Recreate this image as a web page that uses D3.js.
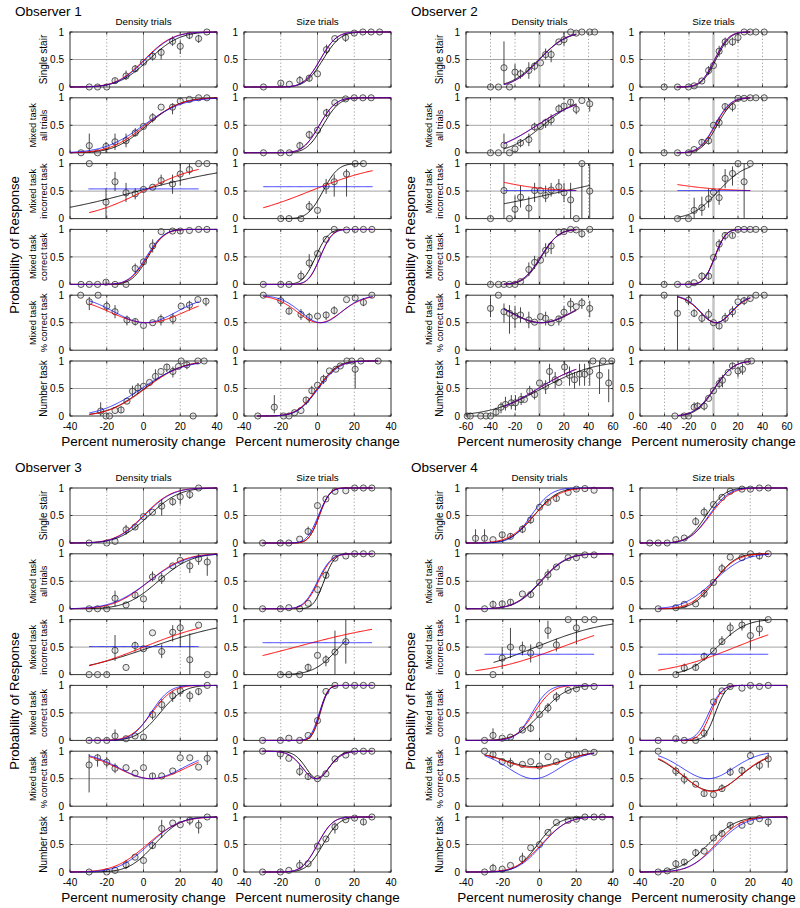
<!DOCTYPE html>
<html><head><meta charset="utf-8">
<script src="https://cdn.jsdelivr.net/npm/d3@7"></script>
<style>body{margin:0;background:#fff;} text{font-family:"Liberation Sans",Arial,Helvetica,sans-serif;fill:#000;}</style>
</head><body><svg id="c" width="800" height="908"></svg>
<script>
const observers = ["Observer 1","Observer 2","Observer 3","Observer 4"];
const columns = ["Density trials","Size trials"];
const rowLabels = [["Single stair"],["Mixed task","all trials"],["Mixed task","incorrect task"],["Mixed task","correct task"],["Mixed task","% correct task"],["Number task"]];
const xDomains = [[-40,40],[-60,60],[-40,40],[-40,40]];
const xTickVals = [[-40,-20,0,20,40],[-60,-40,-20,0,20,40,60],[-40,-20,0,20,40],[-40,-20,0,20,40]];
const yTickVals = [0,0.5,1];
const yLabel = "Probability of Response";
const xLabel = "Percent numerosity change";

// points: [x, y, errLow, errHigh]
// fits: [color, kind, mu, sd, lo, hi, x0, x1]  kind: s = psychometric, u = % correct, h = flat [color,'h',y,x0,x1]
const o1dPts = [
 [[-29.5,0],[-25,0],[-20,0],[-15.5,0.115,0.06,0.16],[-9.5,0.2,0.13,0.3],[-4.5,0.33,0.27,0.4],[0,0.45,0.4,0.5],[5,0.56,0.48,0.65],[9.6,0.63,0.5,0.7],[15.8,0.83,0.75,0.92],[20,0.74,0.6,0.85],[25,0.94,0.87,1],[30,0.88,0.8,0.95],[34.5,1]],
 [[-34,0],[-29.5,0.13,0,0.35],[-25,0],[-20.4,0.115,0,0.2],[-15.5,0.2,0.05,0.35],[-9.5,0.22,0.1,0.35],[-4.5,0.36,0.3,0.45],[0,0.48],[5,0.64,0.55,0.72],[9.6,0.83],[15.8,0.83,0.7,0.9],[20,0.94],[25,0.97],[30,1],[34.5,1]],
 [[-29.5,1],[-20.4,0.3,0,0.55],[-15.5,0.67,0.5,0.85],[-9.5,0.47,0.3,0.65],[-4.5,0.45,0.35,0.55],[0,0.53],[5,0.57],[9.6,0.69,0.6,0.8],[15.8,0.63,0.45,0.8],[20,0.81,0.6,1],[25,0.89,0.8,1],[30,1],[34.5,1]],
 [[-34,0],[-29.5,0],[-25,0],[-20.4,0.04,0,0.08],[-15.5,0],[-9.5,0],[-4.5,0.29,0.2,0.38],[0,0.41],[5,0.7,0.58,0.82],[9.6,0.96],[15.8,0.97],[20,0.97,0.92,1],[25,0.98],[30,1],[34.5,1]],
 [[-34.2,1],[-29.5,0.88,0.73,0.97],[-24.7,1],[-20,0.8,0.7,0.9],[-15.5,0.7,0.58,0.82],[-9,0.55,0.45,0.63],[-4.5,0.52,0.45,0.58],[0,0.45],[5,0.5],[9.5,0.56,0.45,0.65],[16,0.57,0.47,0.67],[20.5,0.8],[25,0.82,0.72,0.9],[29.6,0.92],[34,0.89,0.8,0.95]],
 [[-23.3,0.09,0,0.25],[-20.4,0],[-18.5,0],[-15.5,0.1],[-12.2,0.11,0.05,0.18],[-9,0.27],[-6,0.45,0.35,0.55],[-3,0.51,0.4,0.6],[0,0.54],[3.3,0.61],[6.5,0.72,0.65,0.85],[9.5,0.81],[12.7,0.89,0.8,0.95],[16,0.81,0.7,0.9],[19,0.9],[20.5,1],[23.6,0.93,0.85,1],[27,0],[29.6,1],[33,1]]
];
const o1dFits = [
 [['k','s',3,13],['r','s',0.5,12],['b','s',1,12]],
 [['k','s',2,14],['r','s',1,15],['b','s',0,17]],
 [['k','s',-3,45],['r','s',0,24,0,1,-29.5,30],['b','h',0.54,-30,30]],
 [['k','s',2.5,7],['r','s',2,7.5],['b','s',1.5,7.5]],
 [['r','u',2,23,0.5,1,-29.5,30],['b','u',1,19,0.5,1,-29.5,30]],
 [['k','s',0.5,16,0,1,-29.5,30],['r','s',1,16,0,1,-29.5,30],['b','s',-1,18,0,1,-29.5,30]]
];
const o1sPts = [
 [[-29.4,0],[-20,0.07,0.03,0.1],[-15.3,0.05],[-9.6,0.12,0.05,0.2],[-4.5,0.16,0.1,0.22],[0,0.24],[4.9,0.68,0.6,0.77],[9.4,0.88],[15.3,0.9,0.82,0.97],[20,0.98],[24.7,1],[29.2,1],[33.8,1]],
 [[-29.4,0],[-20,0],[-15.3,0],[-9.6,0.13,0.07,0.2],[-4.5,0.33,0.25,0.4],[0,0.41],[4.9,0.73,0.65,0.8],[9.4,0.91],[15.3,0.98],[20,1],[24.7,1],[29.2,1]],
 [[-20,0],[-15.5,0],[-9,0],[-4.5,0.22,0.13,0.32],[0,0.15],[4.7,0.59,0.45,0.72],[9.1,0.67,0.4,0.8],[15.8,0.81,0.4,0.9],[20.5,1],[25,1]],
 [[-29.5,0],[-20,0],[-15.5,0],[-9,0.15,0.08,0.25],[-4.5,0.39,0.3,0.55],[0,0.56],[4.7,0.82],[9.1,1],[15.8,0.99],[20.5,1],[25,1],[29.6,1]],
 [[-29.5,1],[-20,0.9,0.8,1],[-15.5,0.71,0.65,0.78],[-9,0.65,0.55,0.75],[-4.5,0.6,0.5,0.68],[0,0.62],[4.7,0.64,0.55,0.7],[9.1,0.72,0.65,0.8],[15.8,0.92],[20.5,0.95],[25,0.87,0.8,0.95],[29.6,1]],
 [[-32.5,0],[-23.5,0.16,0.05,0.38],[-18.5,0],[-15.5,0],[-12.5,0.06],[-9,0.1],[-6.2,0.29,0.2,0.35],[-3.1,0.46,0.4,0.55],[0,0.56],[3.3,0.67,0.58,0.75],[6.5,0.82],[10,0.85],[12.4,0.91],[16,1],[18.7,1],[20.5,0.85,0.5,1],[23.6,1],[33,1]]
];
const o1sFits = [
 [['k','s',3,7.5],['r','s',1.5,7],['b','s',1.5,7]],
 [['k','s',3,7],['r','s',1,7],['b','s',1,7]],
 [['k','s',3,6.5,0,1,-20,25],['r','s',-4,30,0,1,-29.5,30],['b','h',0.58,-29.5,30]],
 [['k','s',-1,5.5,0,1,-30,30],['r','s',1.5,5,0,1,-30,30],['b','s',1.5,5.2,0,1,-30,30]],
 [['r','u',1,13.5,0.5,1,-29.5,30],['b','u',2,12.5,0.5,1,-29.5,30]],
 [['k','s',0,8.5,0,1,-33,33],['r','s',0,9,0,1,-33,33],['b','s',0.5,9,0,1,-33,33]]
];
const o2dPts = [
 [[-40,0],[-33.5,0],[-29,0.35,0.04,0.83],[-24.5,0],[-20,0.27,0.12,0.42],[-15.5,0.24,0.15,0.32],[-8.7,0.3,0.15,0.45],[-4,0.38,0.3,0.45],[0.8,0.44],[5,0.59,0.5,0.7],[9.5,0.59,0.45,0.68],[15.8,0.82],[20,0.86,0.75,0.98],[25.4,1],[30,0.98],[34.6,1],[41,1],[45,1]],
 [[-40,0],[-33.5,0],[-29,0.14,0,0.35],[-24.5,0],[-20,0.07],[-15.5,0.18,0.1,0.25],[-8.7,0.24,0.12,0.35],[-4,0.47,0.4,0.55],[0.8,0.48],[5,0.55,0.45,0.62],[9.5,0.6,0.5,0.7],[15.8,0.8,0.72,0.88],[20,0.85,0.75,0.9],[25.4,0.92,0.85,0.97],[30,0.79,0.7,0.88],[34.6,0.95],[41,0.89,0.75,0.98]],
 [[-40,0],[-29,0.51,0,1],[-24.5,0],[-20,0.17,0,0.42],[-15.5,0.39,0.2,0.6],[-8.7,0.19,0,0.4],[-4,0.51,0.3,0.65],[0.8,0.51],[5,0.42,0.3,0.6],[9.5,0.52,0.4,0.65],[15.8,0.58,0.45,0.72],[20,0.47,0.3,0.65],[25.4,0.34,0,0.65],[30,0],[34.6,1,0,1],[41,0.5,0,1]],
 [[-40,0],[-33.5,0],[-29,0],[-24.5,0],[-20,0],[-15.5,0.05],[-8.7,0.27,0.15,0.4],[-4,0.4,0.28,0.52],[0.8,0.44],[5,0.62,0.5,0.75],[9.5,0.7,0.55,0.78],[15.8,0.95],[20,0.96],[25.4,1],[30,0.99],[34.6,0.92,0.85,1],[41,1]],
 [[-40,0.76,0.6,0.95],[-33.5,1],[-29,0.7,0.5,0.85],[-24.5,0.67,0.3,0.82],[-20,0.62,0.4,0.8],[-15.5,0.64,0.5,0.78],[-8.7,0.55,0.4,0.7],[-4,0.51],[0.8,0.61],[5,0.58,0.45,0.7],[9.5,0.5],[15.8,0.57,0.45,0.62],[20,0.69,0.58,0.8],[25.4,0.84,0.7,0.95],[30,0.79],[34.6,0.86,0.75,0.95],[41,0.76,0.6,0.9]],
 [[-59,0],[-56.5,0],[-48,0],[-43.6,0],[-40,0],[-35.5,0.07,0,0.15],[-31.4,0.16,0.05,0.25],[-27.8,0.21,0.1,0.35],[-23,0.24,0.12,0.38],[-19.6,0.24,0.1,0.38],[-15,0.3,0.2,0.42],[-12.3,0.3],[-8,0.45,0.38,0.55],[-4,0.39,0.3,0.48],[0,0.6],[5,0.54,0.4,0.65],[8.2,0.81,0.6,0.95],[12.8,0.66,0.5,0.8],[15.8,0.61],[20.5,0.89,0.75,1],[24.5,0.74,0.55,0.9],[28.6,0.66,0.5,0.8],[32.7,0.76,0.55,0.95],[36.8,0.76,0.55,0.95],[41,0.81,0.55,1],[43.6,1],[49,0.74,0.4,1],[51.8,1],[56.5,0.6,0.25,0.85],[59,1]]
];
const o2dFits = [
 [['k','s',-0.5,18,0,1,-29,30],['r','s',0,17,0,1,-29,30],['b','s',0,17,0,1,-29,30]],
 [['k','s',3,22,0,1,-29,30],['r','s',-2,28,0,1,-29,30],['b','s',-2,28,0,1,-29,30]],
 [['k','s',20,80,0,1,-29,41],['r','s',-46.5,-37.3,0.5,1,-29,30],['b','h',0.51,-29,30]],
 [['k','s',1.5,11,0,1,-29,30],['r','s',1,11.5,0,1,-29,30],['b','s',1,11.5,0,1,-29,30]],
 [['k','u',2,29,0.5,1,-29,30],['r','u',1,29,0.5,1,-29,30],['b','u',1,29,0.5,1,-29,30]],
 [['k','s',2,34,0,1,-60,60],['r','s',-1,30,0,1,-29,30],['b','s',-1,30,0,1,-29,30]]
];
const o2sPts = [
 [[-40.3,0],[-29.4,0],[-20.4,0],[-15.8,0.02],[-9.5,0.11],[-4,0.3,0.22,0.38],[0,0.39],[4.6,0.65,0.55,0.75],[9.5,0.82,0.72,0.9],[15.5,0.82,0.75,0.9],[20,0.9,0.8,0.97],[25,1],[30,1],[34.6,1],[41.4,1]],
 [[-40.3,0],[-29.4,0],[-20.4,0],[-15.8,0.06],[-9.5,0.19,0.12,0.25],[-4,0.22,0.15,0.3],[0,0.5],[4.6,0.55,0.45,0.65],[9.5,0.84,0.75,0.9],[15.5,0.84,0.75,0.9],[20,0.99],[25,0.99],[30,1],[34.6,1],[41.4,1]],
 [[-29.4,0],[-20.4,0],[-15.8,0.15,0,0.38],[-9.5,0.2,0.05,0.4],[-4,0.36,0.2,0.55],[0,0.48],[4.6,0.38,0.25,0.55],[9.5,0.73,0.55,0.9],[15.5,0.82,0.6,0.95],[20,1],[25,0.67,0,1],[30,1]],
 [[-40.3,0],[-29.4,0],[-20.4,0],[-15.8,0.03],[-9.5,0.15,0.08,0.22],[-4,0.15,0.08,0.22],[0,0.49],[4.6,0.73,0.6,0.82],[9.5,0.89,0.8,0.95],[15.5,0.89,0.85,0.95],[20,1],[25,1],[30,1],[34.6,1],[41.4,1]],
 [[-40.3,1],[-29.4,0.67,0,1],[-20.4,0.91,0.82,1],[-15.8,0.67,0.6,0.75],[-9.5,0.58,0.5,0.68],[-4,0.65,0.55,0.75],[0,0.5],[4.6,0.44,0.38,0.52],[9.5,0.58,0.5,0.68],[15.5,0.7,0.6,0.8],[20,0.88],[25,0.9,0.82,0.97],[30,0.94],[34.6,1],[41.4,1]],
 [[-31.5,0],[-24,0],[-20.4,0],[-15.8,0.16,0.1,0.25],[-13,0.18,0.12,0.25],[-7.6,0.18,0.1,0.25],[-4,0.32],[0,0.46],[4.6,0.59,0.5,0.7],[7.3,0.65,0.52,0.75],[12,0.79],[15.5,0.91,0.85,0.97],[20,0.82,0.7,0.9],[23.7,0.85,0.75,0.95],[27.8,0.99],[31,1]]
];
const o2sFits = [
 [['k','s',2,9,0,1,-30,30],['r','s',1,9,0,1,-30,30],['b','s',1,9,0,1,-30,30]],
 [['k','s',3,10,0,1,-30,30],['r','s',1.5,10,0,1,-30,30],['b','s',1,10,0,1,-30,30]],
 [['k','s',4,17,0,1,-29.4,30],['r','s',-60.9,-44.3,0.5,1,-29.4,30],['b','h',0.51,-29.4,30]],
 [['k','s',1,7,0,1,-30,30],['r','s',1,7,0,1,-30,30],['b','s',1.2,7,0,1,-30,30]],
 [['k','u',2,14.5,0.5,1,-29.4,30],['r','u',2,14.5,0.5,1,-29.4,30],['b','u',2,14,0.5,1,-29.4,30]],
 [['k','s',1,12,0,1,-29,30],['r','s',0.5,12.5,0,1,-29,30],['b','s',0.5,12.5,0,1,-29,30]]
];
const o3dPts = [
 [[-29.6,0],[-20,0],[-15.5,0.03],[-9.5,0.24,0.15,0.33],[-4.6,0.29,0.25,0.33],[0,0.48],[4.9,0.56],[9.9,0.67,0.5,0.8],[15.9,0.75,0.68,0.82],[20,0.84,0.7,0.95],[25.2,0.88,0.8,0.95],[30,1]],
 [[-29.6,0],[-25,0],[-20,0],[-15.5,0.19,0.05,0.33],[-9.5,0.07],[-4.6,0.25,0.2,0.3],[0,0.18],[4.9,0.58,0.5,0.68],[9.9,0.55,0.45,0.65],[15.9,0.78],[20,0.88],[25.2,0.78,0.65,0.88],[30,0.91,0.8,1],[34.7,0.85,0.6,0.95]],
 [[-29.6,0],[-25,0],[-20,0],[-15.5,0.44,0.25,0.72],[-9.5,0.13],[-4.6,0.53,0.42,0.6],[0,0.47],[4.9,0.76],[9.9,0.42,0.3,0.55],[15.9,0.77,0.6,0.9],[20,0.85,0.5,1],[25.2,0.27,0,0.75],[30,0.9],[34.7,0]],
 [[-29.6,0],[-25,0],[-20,0],[-15.5,0.08,0,0.2],[-9.5,0.03],[-4.6,0.08],[0,0.06],[4.9,0.47,0.38,0.55],[9.9,0.65,0.55,0.75],[15.9,0.81,0.7,0.9],[20,0.9,0.8,0.97],[25.2,0.81,0.7,0.9],[30,0.89,0.82,0.95],[34.7,1]],
 [[-29.6,0.75,0.25,0.95],[-25,0.88,0.72,0.95],[-20,0.8,0.7,0.9],[-15.5,0.69,0.6,0.78],[-9.5,0.7],[-4.6,0.6],[0,0.7],[4.9,0.55,0.5,0.6],[9.9,0.55],[15.9,0.64],[20,0.88],[25.2,0.88],[30,0.71],[34.7,0.87,0.75,1]],
 [[-29.6,0],[-20,0],[-15.5,0.03],[-9.5,0.13,0.05,0.22],[-4.6,0.27],[0,0.21],[4.9,0.48,0.42,0.55],[9.9,0.79,0.62,0.95],[15.9,0.89],[20,0.86],[25.2,0.94,0.85,1],[30,0.85,0.7,0.95],[34.7,1]]
];
const o3dFits = [
 [['k','s',3,13],['r','s',0,12],['b','s',0.5,12]],
 [['k','s',8,14],['r','s',3,15],['b','s',3,16]],
 [['k','s',4,35,0,1,-29.6,40],['r','s',0,30,0,1,-29.6,30],['b','h',0.51,-29.6,30]],
 [['k','s',9,10,0,1,-30,40],['r','s',4.5,9,0,1,-30,40],['b','s',4,8,0,1,-30,40]],
 [['r','u',4.5,21,0.5,1,-29.6,30],['b','u',4,19.5,0.5,1,-29.6,30]],
 [['k','s',6,11],['r','s',2,14],['b','s',3,13]]
];
const o3sPts = [
 [[-29.9,0],[-20.2,0],[-15.6,0],[-9.7,0.07],[-5.1,0.21,0.15,0.3],[0,0.68],[4.6,0.8],[9.5,0.94],[15.4,0.95],[20.2,1],[25,1],[29.6,1]],
 [[-29.9,0],[-20.2,0],[-15.6,0.02],[-9.7,0],[-5.1,0.1],[0,0.35],[4.6,0.61,0.55,0.68],[9.5,0.92],[15.4,0.96],[20.2,1],[25,1],[29.6,1]],
 [[-20.2,0],[-15.6,0],[-9.7,0],[-5.1,0.13,0.07,0.2],[0,0.35],[4.6,0.27,0.15,0.35],[9.5,0.41,0,0.8],[15.4,0.6,0.2,1]],
 [[-29.9,0],[-20.2,0],[-15.6,0.04],[-9.7,0],[-5.1,0.09],[0,0.36],[4.6,0.89],[9.5,1],[15.4,1],[20.2,1],[25,1],[29.6,1]],
 [[-29.9,1],[-20.2,0.95,0.85,1],[-15.6,0.87],[-9.7,0.63,0.55,0.75],[-5.1,0.54,0.48,0.6],[0,0.5],[4.6,0.59],[9.5,0.86],[15.4,0.93],[20.2,1],[25,1],[29.6,1]],
 [[-29.9,0],[-20.2,0],[-15.6,0.03],[-9.7,0.12,0.05,0.22],[-5.1,0.15],[0,0.47],[4.6,0.6],[9.5,0.82,0.7,0.9],[15.4,0.95],[20.2,0.98],[25,0.91,0.85,0.97],[29.6,1]]
];
const o3sFits = [
 [['k','s',1,4.5,0,1,-30,30],['r','s',1,4.5,0,1,-30,30],['b','s',0.5,5,0,1,-30,30]],
 [['k','s',3.5,4.5,0,1,-30,30],['r','s',0.5,6,0,1,-30,30],['b','s',0,6,0,1,-30,30]],
 [['k','s',12,11,0,1,-20.2,15.4],['r','s',-12,45,0,1,-29.9,29.6],['b','h',0.58,-29.9,29.6]],
 [['k','s',1.5,3.5,0,1,-30,30],['r','s',1.2,3.5,0,1,-30,30],['b','s',1,3.8,0,1,-30,30]],
 [['k','u',0,7,0.5,1,-30,30],['r','u',-1,8,0.5,1,-30,30],['b','u',-1,8,0.5,1,-30,30]],
 [['k','s',3,7,0,1,-30,30],['r','s',0,6.5,0,1,-30,30],['b','s',0,6.5,0,1,-30,30]]
];
const o4dPts = [
 [[-34.8,0.085,0.02,0.25],[-29.9,0.085,0.03,0.25],[-25.3,0.06],[-20.3,0.15,0.08,0.2],[-15.8,0.12,0.08,0.18],[-9.3,0.25,0.18,0.32],[-4.8,0.42,0.35,0.5],[0,0.65],[4.6,0.74,0.7,0.8],[9.2,0.81,0.75,0.88],[15.6,0.92],[20.1,0.98],[24.7,0.99],[29.7,0.96]],
 [[-29.9,0],[-25.3,0.08,0,0.15],[-20.3,0.09,0.05,0.15],[-15.8,0.12,0.08,0.17],[-9.3,0.27],[-4.8,0.26,0.2,0.32],[0,0.48],[4.6,0.62,0.52,0.72],[9.2,0.76],[15.6,0.93],[20.1,0.93],[24.7,0.98],[29.7,0.98]],
 [[-25.3,0],[-20.3,0.3,0.1,0.5],[-15.8,0.5,0.3,0.85],[-9.3,0.48,0.35,0.6],[-4.8,0.39,0.22,0.55],[0,0.53],[4.6,0.8,0.65,0.98],[9.2,0.54,0.42,0.65],[15.6,1],[20.1,0.85,0.55,1],[24.7,1],[29.7,1]],
 [[-29.9,0],[-25.3,0.09,0.02,0.22],[-20.3,0.04],[-15.8,0.06],[-9.3,0.19],[-4.8,0.22,0.15,0.3],[0,0.47],[4.6,0.59,0.5,0.68],[9.2,0.79,0.7,0.88],[15.6,0.91],[20.1,0.94],[24.7,0.98],[29.7,0.98]],
 [[-29.9,1],[-25.3,0.94,0.85,1],[-20.3,0.81],[-15.8,0.78,0.7,0.88],[-9.3,0.76],[-4.8,0.81],[0,0.73],[4.6,0.9],[9.2,0.81],[15.6,0.93],[20.1,0.94],[24.7,0.98],[29.7,0.98]],
 [[-29.9,0],[-25.3,0.07,0,0.15],[-20.3,0.05],[-15.8,0.12],[-9.3,0.24,0.15,0.35],[-4.8,0.44],[0,0.5],[4.6,0.72],[9.2,0.9],[15.6,0.94],[20.1,0.96],[24.7,1],[29.7,1],[34.2,1]]
];
const o4dFits = [
 [['k','s',-3,10],['r','s',-3,11],['b','s',-4.5,8.5]],
 [['k','s',1,11],['r','s',0.5,11],['b','s',0.5,11]],
 [['k','s',-2,30,0,1,-25,40],['r','s',12,32,0,1,-34.8,29.7],['b','h',0.37,-29.9,29.7]],
 [['k','s',1,11],['r','s',-3,8],['b','s',-4,7]],
 [['k','u',-3,17.5,0.72,1,-29.9,29.7],['r','u',-3,17.5,0.7,1,-29.9,29.7],['b','u',-3,15.8,0.5,1,-29.9,29.7]],
 [['k','s',-1,9],['r','s',1,11],['b','s',1.5,10.5]]
];
const o4sPts = [
 [[-34.7,0],[-30.1,0],[-25.2,0],[-20.5,0.06],[-15.9,0.09],[-9.7,0.39,0.32,0.47],[-5.1,0.56,0.48,0.65],[0,0.7],[4.6,0.83],[9.1,0.94],[15.5,0.98],[20.1,0.98],[25,1],[29.8,1]],
 [[-30.1,0],[-20.5,0.02],[-15.9,0.08],[-9.7,0.09],[-5.1,0.28,0.2,0.35],[0,0.48],[4.6,0.73,0.65,0.82],[9.1,0.94],[15.5,0.93],[20.1,1],[25,0.96,0.9,1],[29.8,1]],
 [[-20.5,0],[-15.9,0.12,0.05,0.2],[-9.7,0.13,0.08,0.2],[-5.1,0.33,0.25,0.4],[0,0.43],[4.6,0.6,0.55,0.7],[9.1,0.85,0.7,0.95],[15.5,0.9,0.8,1],[20.1,0.71,0.45,1],[25,0.83,0.7,1],[29.8,1]],
 [[-30.1,0],[-20.5,0.03],[-15.9,0],[-9.7,0],[-5.1,0.13,0.05,0.22],[0,0.7],[4.6,0.9],[9.1,0.98],[15.5,0.95],[20.1,1],[25,0.98],[29.8,1]],
 [[-30.1,1],[-20.5,0.64,0.55,0.72],[-15.9,0.49,0.4,0.6],[-9.7,0.4],[-5.1,0.23,0.18,0.3],[0,0.21],[4.6,0.32,0.28,0.4],[9.1,0.62,0.55,0.7],[15.5,0.65,0.55,0.72],[20.1,0.92],[25,0.74,0.65,0.8],[29.8,0.86,0.7,0.97]],
 [[-30.1,0],[-25.2,0.02],[-20.5,0.15,0.08,0.22],[-15.9,0.18,0.12,0.22],[-9.7,0.35,0.28,0.42],[-5.1,0.38],[0,0.62],[4.6,0.7,0.65,0.75],[9.1,0.85,0.78,0.9],[15.5,0.85],[20.1,0.92],[25,0.97],[29.8,0.91,0.82,0.97]]
];
const o4sFits = [
 [['k','s',-4,8],['r','s',-2,9],['b','s',-2.5,8.5]],
 [['k','s',0.5,9,0,1,-30,30],['r','s',0,10,0,1,-30,30],['b','s',0,13,0,1,-30,30]],
 [['k','s',2,12,0,1,-20.5,29.8],['r','s',12,30,0,1,-30.1,29.8],['b','h',0.37,-30.1,29.8]],
 [['k','s',1,4.5],['r','s',-1.5,5],['b','s',-2.5,5.5]],
 [['k','u',-1,18,0.28,1,-30.1,29.8],['r','u',-1,17.5,0.27,1,-30.1,29.8],['b','u',-3,15.8,0.5,1,-30.1,29.8]],
 [['k','s',-3,12],['r','s',1,11],['b','s',2,12]]
];

const panelData = [
  [[o1dPts,o1dFits],[o1sPts,o1sFits]],
  [[o2dPts,o2dFits],[o2sPts,o2sFits]],
  [[o3dPts,o3dFits],[o3sPts,o3sFits]],
  [[o4dPts,o4dFits],[o4sPts,o4sFits]]
];

// ---------- layout ----------
const obsOffX = [0,396,0,396], obsOffY = [0,0,456,456];
const colLeft = [70,244], panelW = 147, panelH = 55, rowTop0 = 32, rowPitch = 65.8;
const colorMap = {k:"#000000", r:"#ff0000", b:"#0000ff"};

function phi(z){
  const t = 1/(1+0.2316419*Math.abs(z));
  const d = 0.3989423*Math.exp(-z*z/2);
  const p = d*t*(0.3193815+t*(-0.3565638+t*(1.781478+t*(-1.821256+t*1.330274))));
  return z>0 ? 1-p : p;
}
function fitY(f,x){
  if(f[1]==='h') return f[2];
  const mu=f[2], sd=f[3], lo=f[4]??0, hi=f[5]??1;
  const p = phi((x-mu)/sd);
  return f[1]==='s' ? lo+(hi-lo)*p : lo+(hi-lo)*Math.pow(2*p-1,2);
}
function fitRange(f,dom){
  if(f[1]==='h') return [f[3],f[4]];
  return [f[6]??dom[0], f[7]??dom[1]];
}

const svg = d3.select("#c");
let clipId = 0;

observers.forEach((obsName,oi)=>{
  const g = svg.append("g").attr("transform",`translate(${obsOffX[oi]},${obsOffY[oi]})`);
  const dom = xDomains[oi];
  g.append("text").attr("x",15).attr("y",15.5).attr("font-size",13.5).text(obsName);
  g.append("text").attr("transform","translate(19,245) rotate(-90)")
    .attr("text-anchor","middle").attr("font-size",13).text(yLabel);
  rowLabels.forEach((lab,ri)=>{
    const cy = rowTop0 + ri*rowPitch + panelH/2;
    if(lab.length===1){
      g.append("text").attr("transform",`translate(46.5,${cy}) rotate(-90)`)
        .attr("text-anchor","middle").attr("font-size",10).text(lab[0]);
    } else {
      g.append("text").attr("transform",`translate(36,${cy}) rotate(-90)`)
        .attr("text-anchor","middle").attr("font-size",9.3).text(lab[0]);
      g.append("text").attr("transform",`translate(46.5,${cy}) rotate(-90)`)
        .attr("text-anchor","middle").attr("font-size",9.3).text(lab[1]);
    }
  });
  columns.forEach((colName,ci)=>{
    const x = d3.scaleLinear().domain(dom).range([colLeft[ci], colLeft[ci]+panelW]);
    g.append("text").attr("x",colLeft[ci]+panelW/2).attr("y",25).attr("text-anchor","middle")
      .attr("font-size",9.8).text(colName);
    rowLabels.forEach((lab,ri)=>{
      const top = rowTop0 + ri*rowPitch;
      const y = d3.scaleLinear().domain([0,1]).range([top+panelH, top]);
      const pg = g.append("g");
      xTickVals[oi].filter(v=>v!==0 && v>dom[0] && v<dom[1]).forEach(v=>{
        pg.append("line").attr("x1",x(v)).attr("x2",x(v)).attr("y1",top).attr("y2",top+panelH)
          .attr("stroke","#888").attr("stroke-width",0.8).attr("stroke-dasharray","1.2,2.2");
      });
      pg.append("line").attr("x1",x(0)).attr("x2",x(0)).attr("y1",top).attr("y2",top+panelH)
        .attr("stroke", oi===1 ? "#c4c4c4" : "#999").attr("stroke-width", oi===1 ? 2.5 : 0.9);
      pg.append("line").attr("x1",x.range()[0]).attr("x2",x.range()[1]).attr("y1",y(0.5)).attr("y2",y(0.5))
        .attr("stroke","#999").attr("stroke-width",0.9);
      const cid = "clip"+(clipId++);
      svg.append("clipPath").attr("id",cid).append("rect")
        .attr("x",x.range()[0]+obsOffX[oi]).attr("y",top-1+obsOffY[oi]).attr("width",panelW).attr("height",panelH+2);
      const [pts,fits] = panelData[oi][ci];
      const cg = svg.append("g").attr("clip-path",`url(#${cid})`)
        .append("g").attr("transform",`translate(${obsOffX[oi]},${obsOffY[oi]})`);
      fits[ri].forEach(f=>{
        const [a,b] = fitRange(f,dom);
        const xs = d3.range(a,b,0.5).concat([b]);
        const line = d3.line().x(v=>x(v)).y(v=>y(fitY(f,v)));
        cg.append("path").attr("d",line(xs)).attr("fill","none")
          .attr("stroke",colorMap[f[0]]).attr("stroke-width",f[0]==='k'?0.9:1)
          .attr("stroke-opacity",f[0]==='b'?0.75:1);
      });
      const fg = g.append("g");
      fg.append("rect").attr("x",x.range()[0]).attr("y",top).attr("width",panelW).attr("height",panelH)
        .attr("fill","none").attr("stroke","#333").attr("stroke-width",1);
      yTickVals.forEach(v=>{
        fg.append("line").attr("x1",x.range()[0]).attr("x2",x.range()[0]+2.5).attr("y1",y(v)).attr("y2",y(v)).attr("stroke","#333");
        fg.append("line").attr("x1",x.range()[1]).attr("x2",x.range()[1]-2.5).attr("y1",y(v)).attr("y2",y(v)).attr("stroke","#333");
        fg.append("text").attr("x",x.range()[0]-6).attr("y",y(v)+3.6).attr("text-anchor","end")
          .attr("font-size",10).text(v===0.5?"0.5":String(v));
      });
      xTickVals[oi].forEach(v=>{
        fg.append("line").attr("x1",x(v)).attr("x2",x(v)).attr("y1",top+panelH).attr("y2",top+panelH-2.5).attr("stroke","#333");
        fg.append("line").attr("x1",x(v)).attr("x2",x(v)).attr("y1",top).attr("y2",top+2.5).attr("stroke","#333");
      });
      if(ri===rowLabels.length-1){
        xTickVals[oi].forEach(v=>{
          fg.append("text").attr("x",x(v)).attr("y",top+panelH+13.5).attr("text-anchor","middle")
            .attr("font-size",10).text(String(v));
        });
        fg.append("text").attr("x",colLeft[ci]+panelW/2).attr("y",446).attr("text-anchor","middle")
          .attr("font-size",13.5).text(xLabel);
      }
      const dg = g.append("g");
      pts[ri].filter(p=>p.length>2).forEach(p=>{
        dg.append("line").attr("x1",x(p[0])).attr("x2",x(p[0])).attr("y1",y(p[2])).attr("y2",y(p[3]))
          .attr("stroke","#333").attr("stroke-width",0.9);
      });
      dg.selectAll("circle").data(pts[ri]).enter().append("circle")
        .attr("cx",p=>x(p[0])).attr("cy",p=>y(p[1])).attr("r",3.1)
        .attr("fill","#b8b8b8").attr("fill-opacity",0.3).attr("stroke","#333").attr("stroke-width",0.8);
    });
  });
});
</script></body></html>
